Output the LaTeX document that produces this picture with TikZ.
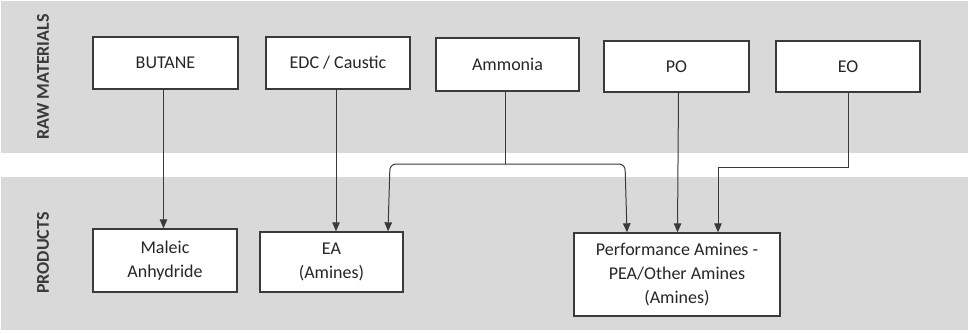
\documentclass[tikz,border=0pt]{standalone}
\usepackage{fontspec}
\setmainfont{Carlito}
\usetikzlibrary{arrows.meta}
\definecolor{band}{HTML}{D9D9D9}
\definecolor{ink}{HTML}{262626}
\definecolor{linec}{HTML}{3A3A3A}
\tikzset{
  box/.style={draw=linec, line width=1.4pt, fill=white, text=ink, align=center, inner sep=0pt, font=\fontsize{18}{24}\selectfont},
  conn/.style={draw=linec, line width=1pt},
  arr/.style={conn, -{Triangle[width=7.5pt,length=9pt]}},
  lane/.style={text=linec, font=\bfseries\fontsize{18}{20}\selectfont, rotate=90}
}
\begin{document}
\begin{tikzpicture}[x=1pt,y=-1pt]
\useasboundingbox (0,0) rectangle (972,333);
\fill[white] (0,0) rectangle (972,333);
\fill[band] (1,1) rectangle (968,153);
\fill[band] (1,177) rectangle (968,330);
\node[lane] (lraw) at (43,77) {RAW MATERIALS};
\node[lane] (lprod) at (43,253) {PRODUCTS};
\node[box, minimum width=145pt, minimum height=52pt] (butane) at (165.5,63) {BUTANE};
\node[box, minimum width=144pt, minimum height=52pt] (edc) at (338,63) {EDC / Caustic};
\node[box, minimum width=143pt, minimum height=53pt] (amm) at (507.5,64.5) {Ammonia};
\node[box, minimum width=145pt, minimum height=51pt] (po) at (676.5,66.5) {PO};
\node[box, minimum width=144pt, minimum height=51pt] (eo) at (848,66.5) {EO};
\node[box, minimum width=144pt, minimum height=63pt] (maleic) at (165,260.5) {Maleic\\Anhydride};
\node[box, minimum width=143pt, minimum height=60pt] (ea) at (331.5,262) {EA\\(Amines)};
\node[box, minimum width=206pt, minimum height=83pt] (perf) at (677,274.5) {Performance Amines -\\PEA/Other Amines\\(Amines)};
\coordinate (nh3) at (505,164);
\coordinate (nh3l) at (390,164);
\coordinate (nh3r) at (625,164);
\coordinate (eobend) at (718,167);
\draw[arr] ([xshift=-2pt]butane.south) -- ([xshift=-2pt]butane.south |- maleic.north);
\draw[arr] ([xshift=-2pt]edc.south) -- ([xshift=-2pt]edc.south |- ea.north);
\draw[conn] (amm.south -| nh3) -- (nh3);
\draw[arr, rounded corners=6pt] (nh3) -- (nh3l) -- ([xshift=-2pt]nh3l |- ea.north);
\draw[arr, rounded corners=6pt] (nh3) -- (nh3r) -- ([xshift=2pt]nh3r |- perf.north);
\draw[arr] ([xshift=2pt]po.south) -- ([xshift=1pt]po.south |- perf.north);
\draw[arr] (eo.south) |- (eobend) -- (eobend |- perf.north);
\end{tikzpicture}
\end{document}
